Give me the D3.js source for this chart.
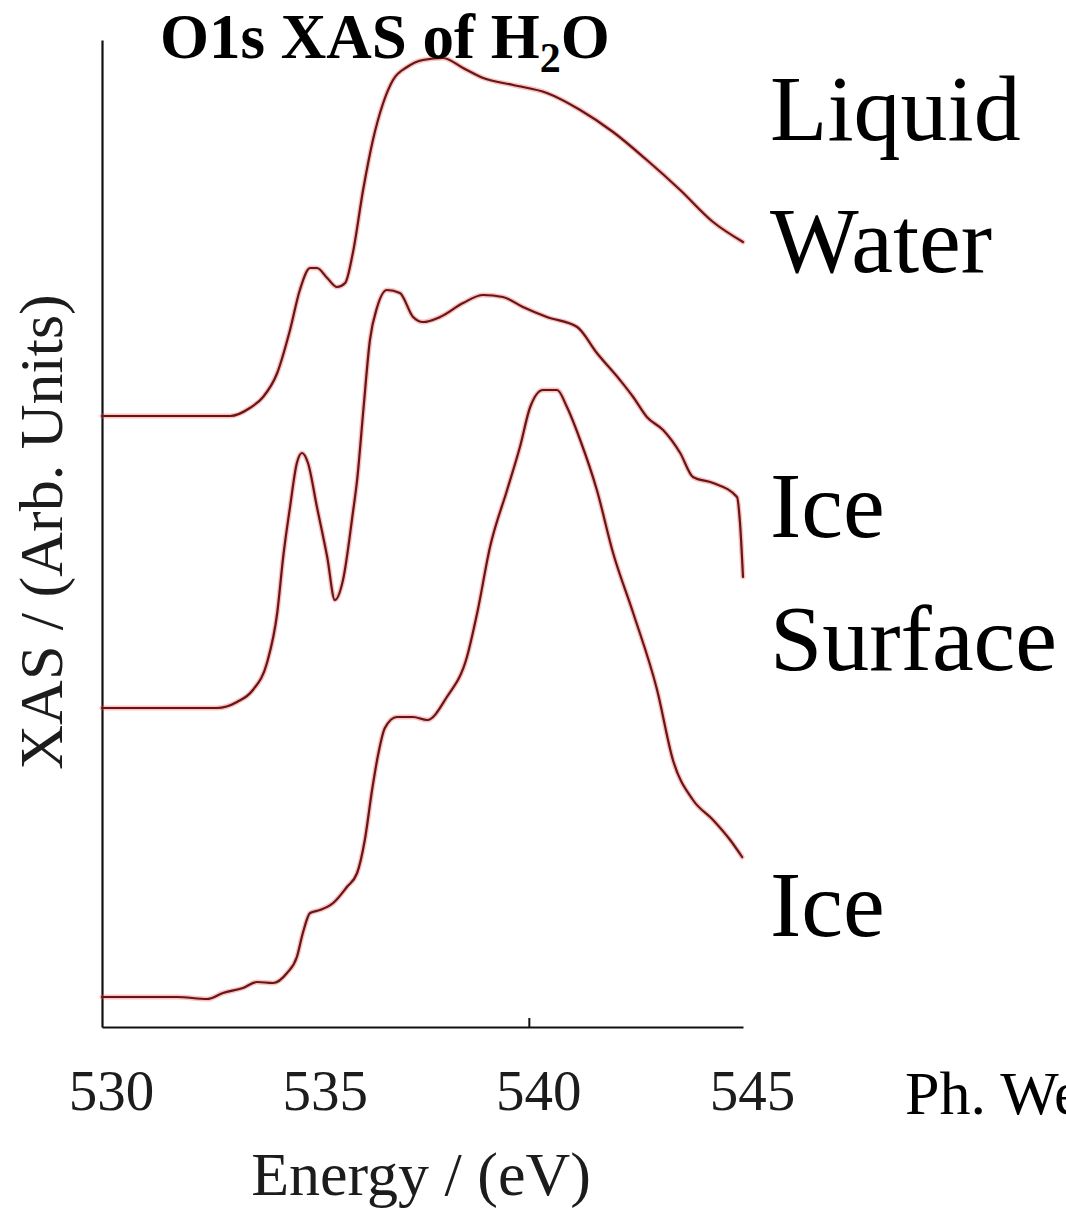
<!DOCTYPE html>
<html>
<head>
<meta charset="utf-8">
<script src="https://cdn.jsdelivr.net/npm/d3@7"></script>
<style>
  html, body { margin: 0; padding: 0; background: #fff; overflow: hidden }
</style>
</head>
<body>
<div id="chart"></div>
<script>
// O1s XAS spectra (arbitrary units, stacked offsets included)
const energyTicks = [530, 535, 540, 545]
const markedTicks = [540]

const liquidEnergy = [530.00, 533.00, 533.46, 533.77, 534.10, 534.40, 534.63, 534.87, 535.03, 535.27, 535.50, 535.69, 535.87, 536.11, 536.34, 536.58, 536.81, 537.14, 537.51, 537.98, 538.45, 538.92, 539.62, 540.41, 541.19, 541.96, 542.75, 543.53, 544.30, 545.00]
const liquidXas = [61.1, 61.1, 61.9, 63.0, 65.4, 69.7, 73.7, 75.9, 75.9, 74.9, 74.0, 74.4, 77.4, 83.7, 88.7, 92.4, 94.7, 96.0, 96.7, 96.9, 95.9, 94.9, 94.2, 93.4, 91.7, 89.5, 86.7, 83.7, 80.5, 78.5]

const surfaceEnergy = [530.00, 532.69, 533.16, 533.53, 533.86, 534.10, 534.24, 534.40, 534.56, 534.68, 534.82, 535.03, 535.27, 535.45, 535.64, 535.87, 535.97, 536.11, 536.27, 536.44, 536.67, 536.97, 537.28, 537.51, 537.91, 538.45, 538.92, 539.38, 539.85, 540.41, 541.12, 541.58, 542.12, 542.43, 542.75, 543.13, 543.53, 543.83, 544.30, 544.86, 544.93, 545.00]
const surfaceXas = [31.9, 31.9, 32.5, 33.7, 36.4, 41.4, 47.0, 52.0, 56.4, 57.4, 56.4, 52.0, 47.0, 42.7, 44.7, 51.4, 54.7, 61.4, 68.7, 72.0, 73.7, 73.4, 71.0, 70.5, 71.0, 72.4, 73.2, 73.0, 72.0, 71.0, 70.0, 67.4, 64.7, 63.0, 61.0, 59.7, 57.4, 55.0, 54.4, 53.0, 50.4, 45.0]

const iceEnergy = [530.00, 531.76, 532.46, 532.83, 533.30, 533.63, 534.00, 534.33, 534.56, 534.70, 534.87, 535.10, 535.41, 535.73, 535.97, 536.15, 536.32, 536.46, 536.62, 536.90, 537.28, 537.61, 538.07, 538.54, 538.78, 539.08, 539.48, 539.78, 540.02, 540.32, 540.65, 540.88, 541.19, 541.58, 541.96, 542.43, 542.99, 543.36, 543.83, 544.30, 544.70, 544.98]
const iceXas = [3.0, 3.0, 2.8, 3.4, 3.9, 4.5, 4.4, 5.4, 7.0, 9.4, 11.4, 11.7, 12.4, 14.0, 15.4, 18.7, 23.7, 27.2, 29.9, 31.0, 31.0, 30.7, 33.0, 37.0, 41.4, 48.0, 53.7, 58.0, 62.0, 63.7, 63.7, 62.0, 58.7, 53.7, 47.4, 41.4, 33.7, 26.7, 22.7, 20.7, 18.7, 17.0]

const seriesNames = ['Liquid Water', 'Ice Surface', 'Ice']

const width = 1066
const height = 1214
const marginTop = 40
const marginRight = 323
const marginBottom = 187
const marginLeft = 102
const serif = '"Liberation Serif", "Times New Roman", serif'

const xScale = d3.scaleLinear([530, 545], [marginLeft, width - marginRight])
const yScale = d3.scaleLinear([0, 98.7], [height - marginBottom, marginTop])

const series = [
  { name: seriesNames[0], X: liquidEnergy, Y: liquidXas },
  { name: seriesNames[1], X: surfaceEnergy, Y: surfaceXas },
  { name: seriesNames[2], X: iceEnergy, Y: iceXas }
]

const line = d3.line()
  .curve(d3.curveMonotoneX)
  .x(d => xScale(d[0]))
  .y(d => yScale(d[1]))

const svg = d3.create('svg')
  .attr('width', width)
  .attr('height', height)
  .attr('viewBox', [0, 0, width, height])
  .style('background', '#fff')
  .style('display', 'block')

// x axis
const gx = svg.append('g')
  .attr('transform', `translate(0, ${height - marginBottom})`)
  .call(d3.axisBottom(xScale).tickValues(energyTicks).tickSize(0).tickSizeOuter(0))
  .call(g => g.select('.domain').attr('stroke', '#111').attr('stroke-width', 2.2))
  .call(g => g.selectAll('.tick text')
    .attr('y', 83)
    .attr('dy', null)
    .attr('dx', 9)
    .attr('fill', '#1c1c1c')
    .attr('font-family', serif)
    .attr('font-size', 57))

gx.selectAll('.marked')
  .data(markedTicks)
  .join('line')
  .attr('class', 'marked')
  .attr('x1', d => xScale(d))
  .attr('x2', d => xScale(d))
  .attr('y1', 0)
  .attr('y2', -9)
  .attr('stroke', '#111')
  .attr('stroke-width', 2)

// y axis
svg.append('g')
  .attr('transform', `translate(${marginLeft}, 0)`)
  .call(d3.axisLeft(yScale).tickValues([]).tickSizeOuter(0))
  .call(g => g.select('.domain').attr('stroke', '#111').attr('stroke-width', 2.2))

// spectra: soft red halo under a dark maroon core
const curves = svg.append('g').attr('fill', 'none')
  .attr('stroke-linejoin', 'round')
  .attr('stroke-linecap', 'round')

curves.selectAll('.halo')
  .data(series)
  .join('path')
  .attr('class', 'halo')
  .attr('stroke', '#e4504f')
  .attr('stroke-opacity', 0.35)
  .attr('stroke-width', 5)
  .attr('d', s => line(d3.zip(s.X, s.Y)))

curves.selectAll('.core')
  .data(series)
  .join('path')
  .attr('class', 'core')
  .attr('stroke', '#6a1414')
  .attr('stroke-width', 2.2)
  .attr('d', s => line(d3.zip(s.X, s.Y)))

// title
const title = svg.append('text')
  .attr('x', 160)
  .attr('y', 58)
  .attr('font-family', serif)
  .attr('font-weight', 'bold')
  .attr('font-size', 63)
  .attr('fill', '#000')
title.append('tspan').text('O1s XAS of H')
title.append('tspan').attr('font-size', 42).attr('dy', 14).text('2')
title.append('tspan').attr('dy', -14).text('O')

// series labels at the right
const labelX = xScale(545) + 27
const labelLines = [
  { text: 'Liquid', y: 140 },
  { text: 'Water', y: 272 },
  { text: 'Ice', y: 537 },
  { text: 'Surface', y: 670 },
  { text: 'Ice', y: 936 }
]
svg.append('g')
  .attr('font-family', serif)
  .attr('font-size', 94)
  .attr('fill', '#000')
  .selectAll('text')
  .data(labelLines)
  .join('text')
  .attr('x', labelX)
  .attr('y', d => d.y)
  .text(d => d.text)

// axis titles
svg.append('text')
  .attr('x', 421)
  .attr('y', 1195)
  .attr('text-anchor', 'middle')
  .attr('font-family', serif)
  .attr('font-size', 62)
  .attr('fill', '#1c1c1c')
  .text('Energy / (eV)')

svg.append('text')
  .attr('transform', 'translate(62, 532) rotate(-90)')
  .attr('text-anchor', 'middle')
  .attr('font-family', serif)
  .attr('font-size', 62)
  .attr('fill', '#1c1c1c')
  .text('XAS / (Arb. Units)')

// credit, runs off the right edge as in the source
svg.append('text')
  .attr('x', 905)
  .attr('y', 1114)
  .attr('font-family', serif)
  .attr('font-size', 62)
  .attr('fill', '#000')
  .text('Ph. Wernet')

d3.select('#chart').append(() => svg.node())
</script>
</body>
</html>
